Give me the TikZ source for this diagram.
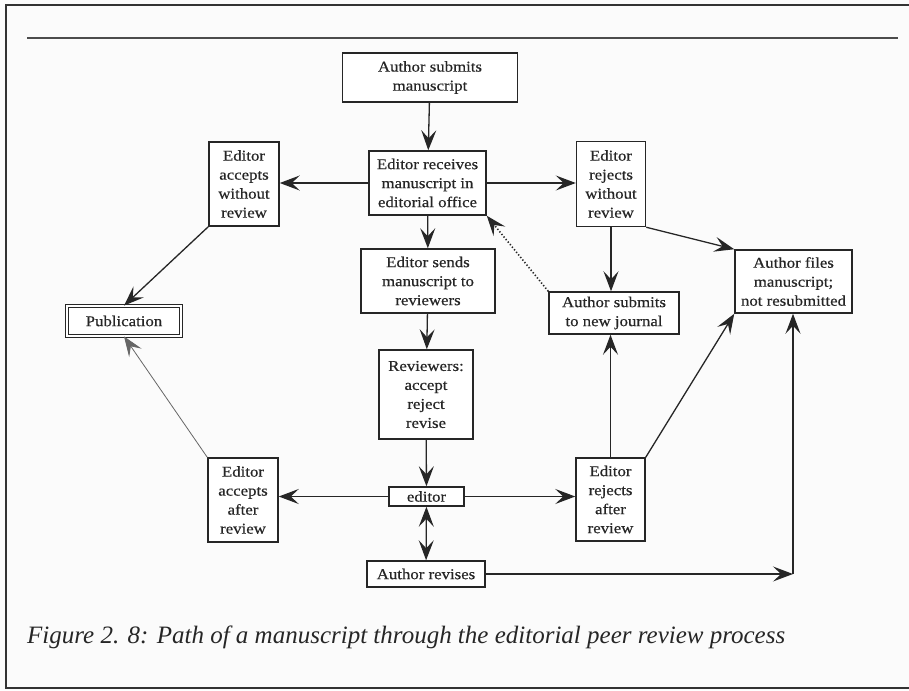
\documentclass[tikz,border=0pt]{standalone}
\usepackage{fontspec}
\setmainfont{Liberation Serif}
\newfontfamily\boxfont[FakeStretch=1.12, FakeBold=0.5]{Liberation Serif}
\usetikzlibrary{arrows.meta}

\tikzset{
  bigtip/.tip={Stealth[length=20pt,width=15pt,inset=8pt]},
}

\begin{document}
\begin{tikzpicture}[x=1pt,y=-1pt,
  ink/.style={draw=black!85},
  box/.style={ink, line width=1.5pt, fill=white, align=center, inner sep=0pt,
    font=\boxfont\fontsize{15}{19}\selectfont, text=black!85},
  arr/.style={ink, line width=1.3pt, -bigtip},
  thinarr/.style={draw=black!60, line width=0.8pt, -bigtip},
  dotarr/.style={arr, dotted, line width=1.6pt},
]
% page background and frame
\fill[gray!3] (0,0) rectangle (909,690);
\useasboundingbox (0,0) rectangle (909,690);
\draw[black!80, line width=2pt] (920,5) -- (6,5) -- (6,688) -- (920,688);
\draw[black!70, line width=1.6pt] (27,38) -- (898,38);

% boxes
\node[box, minimum width=175pt, minimum height=49pt] (submit) at (430,77.5) {Author submits\\manuscript};
\node[box, minimum width=117pt, minimum height=64pt] (receives) at (427.5,183) {Editor receives\\manuscript in\\editorial office};
\node[box, minimum width=70pt, minimum height=84pt] (accW) at (244,184) {Editor\\accepts\\without\\review};
\node[box, minimum width=69pt, minimum height=85pt] (rejW) at (611,184) {Editor\\rejects\\without\\review};
\node[box, minimum width=134pt, minimum height=64pt] (sends) at (428,281) {Editor sends\\manuscript to\\reviewers};
\node[box, minimum width=114pt, minimum height=30pt, line width=0.8pt,
      double=white, double distance=1.6pt] (pub) at (124,321) {Publication};
\node[box, minimum width=130pt, minimum height=42pt] (newj) at (614,313) {Author submits\\to new journal};
\node[box, minimum width=117pt, minimum height=63pt] (files) at (793.5,281.5) {Author files\\manuscript;\\not resubmitted};
\node[box, minimum width=94pt, minimum height=89pt] (reviewers) at (426,394.5) {Reviewers:\\accept\\reject\\revise};
\node[box, minimum width=75pt, minimum height=19pt] (editor) at (426.5,496.5) {editor};
\node[box, minimum width=70pt, minimum height=84pt] (accA) at (243,500) {Editor\\accepts\\after\\review};
\node[box, minimum width=69pt, minimum height=83pt] (rejA) at (610.5,499.5) {Editor\\rejects\\after\\review};
\node[box, minimum width=118pt, minimum height=26pt] (revises) at (426,574) {Author revises};
\coordinate (turn) at (793,574);

% connectors
\draw[arr] (submit) -- (receives);
\draw[arr] (receives.west) -- (receives.west -| accW.east);
\draw[arr] (receives.east) -- (receives.east -| rejW.west);
\draw[arr] (receives) -- (sends);
\draw[arr] (accW.south west) -- (pub.north);
\draw[arr] (rejW.south) -- (rejW.south |- newj.north);
\draw[arr] (rejW.south east) -- (files.north west);
\draw[dotarr] (newj.north west) -- (receives.south east);
\draw[arr] (sends) -- (reviewers);
\draw[arr] (reviewers) -- (editor);
\draw[arr] (editor.west) -- (editor.west -| accA.east);
\draw[arr] (editor.east) -- (editor.east -| rejA.west);
\draw[arr, bigtip-bigtip] (editor) -- (revises);
\draw[thinarr] (accA.north west) -- (pub.south);
\draw[arr] (rejA.north) -- (rejA.north |- newj.south);
\draw[arr] (rejA.north east) -- (files.south west);
\draw[arr] (revises.east) -- (turn);
\draw[arr] (turn) -- (files.south -| turn);

% caption
\node[anchor=base west, inner sep=0pt, text=black!85,
      font=\itshape\fontsize{25}{30}\selectfont] (cap) at (27,643)
  {Figure 2. 8: Path of a manuscript through the editorial peer review process};
\end{tikzpicture}
\end{document}
